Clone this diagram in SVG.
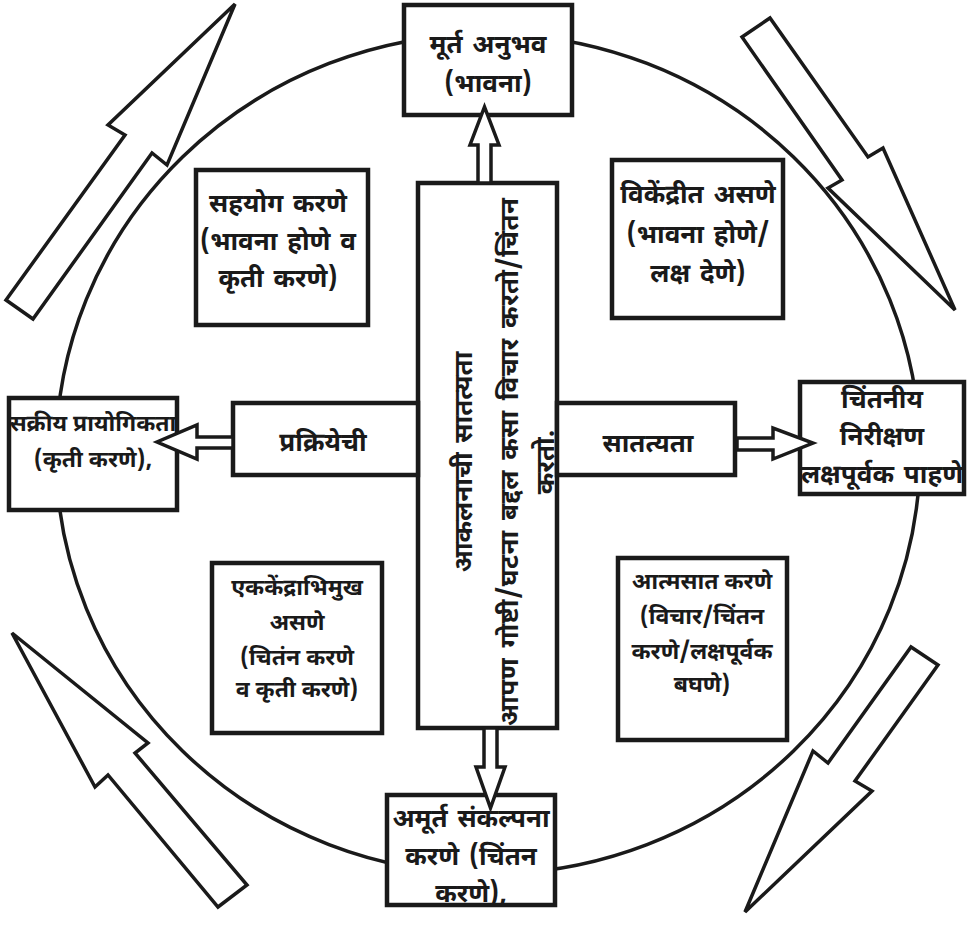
<svg xmlns="http://www.w3.org/2000/svg" width="967" height="925" viewBox="0 0 967 925">
<style>
.bx{fill:#fff;stroke:#1a1a1a;stroke-width:4.5}
.ar{fill:#fff;stroke:#1a1a1a;stroke-width:3.5;stroke-linejoin:miter}
.big{fill:#fff;stroke:#1a1a1a;stroke-width:3.5;stroke-linejoin:miter}
text{font-family:'Noto Sans Devanagari','Noto Sans','Liberation Sans',sans-serif;font-weight:bold;font-size:26px;fill:#1a1a1a;text-anchor:middle;word-spacing:3px}
.s{font-size:23px;word-spacing:0}
</style>
<rect width="967" height="925" fill="#fff"/>
<ellipse cx="488" cy="454" rx="432" ry="420" fill="none" stroke="#1a1a1a" stroke-width="3.5"/>
<g id="cycle-arrows">
<polygon class="big" points="235,4 167,165 152,153 33,319 6,300 125,135 108,125"/>
<polygon class="big" points="742,37 770,18 868,157 883,148 955,310 828,188 842,180"/>
<polygon class="big" points="12,633 148,743 135,753 247,885 218,907 108,775 95,787"/>
<polygon class="big" points="745,912 813,751 828,763 911,647 938,665 855,781 872,791"/>
</g>
<g id="n-top"><rect class="bx" x="404" y="5" width="168" height="110"/><text x="488" y="53">मूर्त अनुभव</text><text x="488" y="92">(भावना)</text></g>
<g id="n-center"><rect class="bx" x="418" y="183" width="139" height="545"/>
<g transform="translate(487,462) rotate(-90)"><text x="0" y="-15">आकलनाची सातत्यता</text><text x="0" y="31" textLength="528" lengthAdjust="spacing">आपण गोष्टी/घटना बद्दल कसा विचार करतो/चिंतन</text><text x="0" y="67">करतो.</text></g></g>
<g id="n-left"><rect class="bx" x="9" y="398" width="168" height="112"/><text class="s" x="93" y="431">सक्रीय प्रायोगिकता</text><text class="s" x="93" y="467">(कृती करणे),</text></g>
<g id="n-proc"><rect class="bx" x="233" y="403" width="185" height="72"/><text x="323" y="451">प्रक्रियेची</text></g>
<g id="n-sat"><rect class="bx" x="557" y="403" width="178" height="72"/><text x="648" y="452">सातत्यता</text></g>
<g id="n-right"><rect class="bx" x="800" y="382" width="164" height="112"/><text x="882" y="408">चिंतनीय</text><text x="882" y="445">निरीक्षण</text><text x="882" y="483">लक्षपूर्वक पाहणे</text></g>
<g id="n-bottom"><rect class="bx" x="387" y="795" width="168" height="110"/><text x="471" y="827">अमूर्त संकल्पना</text><text x="471" y="865">करणे (चिंतन</text><text x="471" y="902">करणे),</text></g>
<g id="n-sahayog"><rect class="bx" x="196" y="170" width="172" height="155"/><text x="278" y="212">सहयोग करणे</text><text x="278" y="250">(भावना होणे व</text><text x="278" y="287">कृती करणे)</text></g>
<g id="n-vikendrit"><rect class="bx" x="612" y="160" width="171" height="158"/><text x="698" y="203">विकेंद्रीत असणे</text><text x="698" y="243">(भावना होणे/</text><text x="698" y="282">लक्ष देणे)</text></g>
<g id="n-ekakendra"><rect class="bx" x="212" y="563" width="170" height="170"/><text class="s" x="297" y="595">एककेंद्राभिमुख</text><text class="s" x="297" y="630">असणे</text><text class="s" x="297" y="665">(चितंन करणे</text><text class="s" x="297" y="697">व कृती करणे)</text></g>
<g id="n-atmasat"><rect class="bx" x="618" y="558" width="169" height="182"/><text class="s" x="702" y="589">आत्मसात करणे</text><text class="s" x="702" y="624">(विचार/चिंतन</text><text class="s" x="702" y="659">करणे/लक्षपूर्वक</text><text class="s" x="702" y="692">बघणे)</text></g>
<g id="connectors">
<polygon class="ar" points="478,183 478,145 470,145 484.5,107 499,145 491,145 491,183"/>
<polygon class="ar" points="484,728 484,767 476,767 490.5,808 505,767 497,767 497,728"/>
<polygon class="ar" points="233,437 197,437 197,425 157,442 197,459 197,448 233,448"/>
<polygon class="ar" points="737,438 773,438 773,428 813,443 773,459 773,450 737,450"/>
</g>
</svg>
